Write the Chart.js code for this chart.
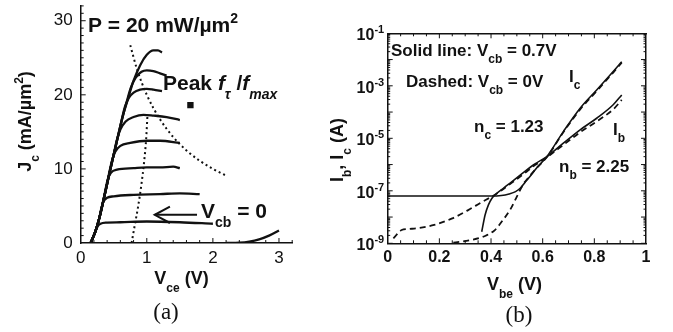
<!DOCTYPE html>
<html>
<head>
<meta charset="utf-8">
<script src="https://cdn.jsdelivr.net/npm/chart.js@4.4.0/dist/chart.umd.min.js"></script>
<style>
html, body { margin: 0; padding: 0; background: #fff; }
#wrap { position: relative; width: 673px; height: 332px; }
canvas { position: absolute; top: 0; }
#ca { left: 0; }
#cb { left: 316px; }
</style>
</head>
<body>
<div id="wrap">
  <canvas id="ca" width="336" height="332"></canvas>
  <canvas id="cb" width="357" height="332"></canvas>
</div>
<script>
// ---- panel (a): Jc vs Vce, [Vce (V), Jc (mA/um2)] ----
const vceTicks = [0, 1, 2, 3];
const jcTicks = [0, 10, 20, 30];

const jcCurve1 = [[0.15,0],[0.22,1.5],[0.28,3.3],[0.34,5.6],[0.4,8.0],[0.46,10.4],[0.52,12.7],[0.58,15.0],[0.64,17.2],[0.7,19.0],[0.8,21.9],[0.9,24.0],[1.0,25.4],[1.1,26.0],[1.17,26.0],[1.23,25.7]];
const jcCurve2 = [[0.15,0],[0.22,1.5],[0.28,3.3],[0.34,5.6],[0.4,8.0],[0.46,10.4],[0.52,12.7],[0.58,15.0],[0.64,17.2],[0.7,19.2],[0.76,21.0],[0.83,22.3],[0.92,23.1],[1.0,23.3],[1.1,23.2],[1.2,22.9],[1.3,22.6]];
const jcCurve3 = [[0.15,0],[0.22,1.5],[0.28,3.3],[0.34,5.6],[0.4,8.0],[0.46,10.4],[0.52,12.7],[0.58,15.0],[0.62,16.6],[0.67,18.4],[0.73,19.6],[0.8,20.3],[0.9,20.7],[1.0,20.8],[1.1,20.7],[1.23,20.5]];
const jcCurve4 = [[0.15,0],[0.22,1.5],[0.28,3.3],[0.34,5.6],[0.4,8.0],[0.46,10.4],[0.5,12.0],[0.55,14.0],[0.6,15.3],[0.68,16.4],[0.8,17.0],[0.95,17.3],[1.1,17.2],[1.3,17.0],[1.5,16.6]];
const jcCurve5 = [[0.15,0],[0.22,1.5],[0.28,3.3],[0.34,5.6],[0.4,8.0],[0.43,9.4],[0.47,11.0],[0.52,12.3],[0.6,13.1],[0.75,13.5],[1.0,13.8],[1.2,13.8],[1.5,13.5]];
const jcCurve6 = [[0.15,0],[0.22,1.5],[0.28,3.3],[0.34,5.6],[0.37,7.0],[0.41,8.6],[0.46,9.5],[0.55,9.9],[0.8,10.1],[1.0,10.2],[1.2,10.2],[1.4,10.3],[1.5,10.1]];
const jcCurve7 = [[0.15,0],[0.22,1.5],[0.28,3.3],[0.31,4.6],[0.34,5.5],[0.4,6.1],[0.5,6.3],[0.8,6.5],[1.2,6.6],[1.5,6.7],[1.8,6.6]];
const jcCurve8 = [[0.15,0],[0.22,1.5],[0.26,2.3],[0.3,2.6],[0.4,2.75],[0.6,2.8],[1.0,2.9],[1.5,2.8],[2.0,2.6]];
const jcTail = [[2.2,0],[2.4,0.05],[2.55,0.2],[2.7,0.5],[2.85,1.0],[3.0,1.7]];

const powerLimit = [[0.75,26.7],[0.85,23.5],[1.0,20.0],[1.2,16.7],[1.4,14.3],[1.6,12.5],[1.8,11.1],[2.0,10.0],[2.2,9.1]];
const peakFtLocus = [[0.77,0],[0.82,2.5],[0.87,5.0],[0.92,8.0],[0.96,11.0],[0.99,14.0],[1.01,17.2]];
const peakMarker = [[1.66,18.6]];
const arrowShaft = [[1.76,3.8],[1.12,3.8]];
const arrowHead = [[1.35,4.9],[1.12,3.8],[1.35,2.7]];

// ---- panel (b): Ib, Ic vs Vbe, [Vbe (V), I (A)] ----
const vbeTicks = [0, 0.2, 0.4, 0.6, 0.8, 1];
const currentTicks = [1e-9, 1e-7, 1e-5, 1e-3, 1e-1];

const icSolid = [[0,6.3e-8],[0.1,6.3e-8],[0.2,6.3e-8],[0.3,6.3e-8],[0.4,6.3e-8],[0.44,6.6e-8],[0.47,7.6e-8],[0.495,9.3e-8],[0.515,1.3e-7],[0.53,2.0e-7],[0.545,3.0e-7],[0.575,7.1e-7],[0.616,2.0e-6],[0.68,1.8e-5],[0.745,1.4e-4],[0.809,6.9e-4],[0.873,3.5e-3],[0.906,8.3e-3]];
const ibSolid = [[0.364,2.75e-9],[0.377,1.2e-8],[0.39,2.9e-8],[0.403,5.1e-8],[0.415,6.9e-8],[0.45,1.3e-7],[0.48,2.2e-7],[0.53,5.4e-7],[0.57,1.05e-6],[0.616,2.0e-6],[0.68,6.5e-6],[0.745,2.1e-5],[0.809,5.8e-5],[0.873,1.9e-4],[0.906,4.5e-4]];
const icDashed = [[0.254,1.05e-9],[0.325,1.35e-9],[0.377,1.9e-9],[0.415,3.2e-9],[0.441,6.6e-9],[0.474,1.9e-8],[0.5,6.0e-8],[0.525,1.8e-7],[0.545,3.2e-7],[0.575,7.1e-7],[0.616,1.9e-6],[0.68,1.7e-5],[0.745,1.26e-4],[0.809,6.3e-4],[0.873,3.2e-3],[0.906,7.6e-3]];
const ibDashed = [[0.022,1.55e-9],[0.054,3.2e-9],[0.08,3.5e-9],[0.12,3.8e-9],[0.18,5.0e-9],[0.25,8.9e-9],[0.31,1.8e-8],[0.36,3.5e-8],[0.415,7.1e-8],[0.48,2.0e-7],[0.53,4.7e-7],[0.57,9.5e-7],[0.616,1.9e-6],[0.68,5.6e-6],[0.745,1.7e-5],[0.809,4.4e-5],[0.873,1.26e-4],[0.906,2.9e-4]];

const ink = '#111';
const fam = "'Liberation Sans', Arial, sans-serif";

// text with sub/superscripts: parts = [[text, flags]], flags: b=sub, p=sup, i=italic
function rich(ctx, x, y, parts, size, align) {
  const fontFor = st => {
    const small = st.includes('b') || st.includes('p');
    const sz = small ? Math.round(size * 0.68) : size;
    return (st.includes('i') ? 'italic ' : '') + 'bold ' + sz + 'px ' + fam;
  };
  let w = 0;
  parts.forEach(([t, st]) => { ctx.font = fontFor(st); w += ctx.measureText(t).width; });
  let cx = align === 'center' ? x - w / 2 : (align === 'right' ? x - w : x);
  ctx.textAlign = 'left';
  ctx.textBaseline = 'alphabetic';
  ctx.fillStyle = ink;
  parts.forEach(([t, st]) => {
    ctx.font = fontFor(st);
    const dy = st.includes('b') ? size * 0.42 : (st.includes('p') ? -size * 0.42 : 0);
    ctx.fillText(t, cx, y + dy);
    cx += ctx.measureText(t).width;
  });
}

function tick(ctx, x1, y1, x2, y2) {
  ctx.beginPath(); ctx.moveTo(x1, y1); ctx.lineTo(x2, y2); ctx.stroke();
}

const pts = a => a.map(p => ({x: p[0], y: p[1]}));
function curve(data, extra) {
  return Object.assign({
    data: pts(data), borderColor: ink, backgroundColor: ink, borderWidth: 2.3,
    pointRadius: 0, fill: false, cubicInterpolationMode: 'monotone'
  }, extra || {});
}
// fixed axis boxes so the plot area lands where the original one is
const fixW = w => s => { s.width = w; s.paddingTop = 0; s.paddingBottom = 0; };
const fixH = h => s => { s.height = h; s.paddingLeft = 0; s.paddingRight = 0; };

// ---- chart (a) ----
const annoA = {
  id: 'annoA',
  afterDraw(chart) {
    const ctx = chart.ctx, xs = chart.scales.x, ys = chart.scales.y, a = chart.chartArea;
    ctx.save();
    ctx.strokeStyle = ink; ctx.lineWidth = 1;
    for (let v = 1; v <= 32; v++) {
      const py = ys.getPixelForValue(v);
      tick(ctx, a.left, py, a.left + (v % 10 === 0 ? 5 : 3), py);
    }
    for (let i = 1; i <= 16; i++) {
      const px = xs.getPixelForValue(i * 0.2);
      tick(ctx, px, a.bottom, px, a.bottom - (i % 5 === 0 ? 5 : 3));
    }
    rich(ctx, 88, 32, [['P = 20 mW/\u00b5m', ''], ['2', 'p']], 21);
    rich(ctx, 163, 90, [['Peak ', ''], ['f', 'i'], ['\u03c4', 'ib'], [' /', ''], ['f', 'i'], ['max', 'ib']], 21);
    rich(ctx, 201, 218, [['V', ''], ['cb', 'b'], [' = 0', '']], 21);
    rich(ctx, 181.5, 284, [['V', ''], ['ce', 'b'], [' (V)', '']], 18, 'center');
    ctx.save();
    ctx.translate(31, 121.5);
    ctx.rotate(-Math.PI / 2);
    rich(ctx, 0, 0, [['J', ''], ['c', 'b'], [' (mA/\u00b5m', ''], ['2', 'p'], [')', '']], 18, 'center');
    ctx.restore();
    ctx.font = "23px 'Liberation Serif', serif";
    ctx.textAlign = 'center'; ctx.textBaseline = 'middle';
    ctx.fillText('(a)', 166, 313);
    ctx.restore();
  }
};

new Chart(document.getElementById('ca'), {
  type: 'line',
  data: {
    datasets: [
      curve(jcCurve1), curve(jcCurve2), curve(jcCurve3), curve(jcCurve4),
      curve(jcCurve5), curve(jcCurve6), curve(jcCurve7), curve(jcCurve8), curve(jcTail),
      curve(powerLimit, {borderWidth: 2, borderDash: [2, 3]}),
      curve(peakFtLocus, {borderWidth: 2, borderDash: [2, 3]}),
      curve(arrowShaft, {borderWidth: 2, cubicInterpolationMode: 'default', tension: 0}),
      curve(arrowHead, {borderWidth: 2, cubicInterpolationMode: 'default', tension: 0}),
      {data: pts(peakMarker), showLine: false, pointStyle: 'rect', pointRadius: 4.5,
       backgroundColor: ink, borderColor: ink, borderWidth: 0}
    ]
  },
  options: {
    responsive: false,
    animation: false,
    layout: {padding: {left: 0, top: 5.9, right: 43.8, bottom: 44}},
    plugins: {legend: {display: false}, tooltip: {enabled: false}},
    scales: {
      x: {
        type: 'linear', min: 0, max: 3.2,
        grid: {display: false, drawTicks: false},
        border: {color: ink, width: 1.5},
        ticks: {color: ink, padding: 5, font: {family: fam, size: 17}, callback: v => String(v)},
        afterBuildTicks: s => { s.ticks = vceTicks.map(v => ({value: v})); },
        afterFit: fixH(45)
      },
      y: {
        type: 'linear', min: 0, max: 32,
        grid: {display: false, drawTicks: false},
        border: {color: ink, width: 1.5},
        ticks: {color: ink, padding: 8, font: {family: fam, size: 17}, callback: v => String(v)},
        afterBuildTicks: s => { s.ticks = jcTicks.map(v => ({value: v})); },
        afterFit: fixW(80.7)
      }
    }
  },
  plugins: [annoA]
});

// ---- chart (b) ----  (canvas starts at page x = 316)
const annoB = {
  id: 'annoB',
  afterDraw(chart) {
    const ctx = chart.ctx, xs = chart.scales.x, ys = chart.scales.y, a = chart.chartArea;
    ctx.save();
    ctx.strokeStyle = ink; ctx.lineWidth = 1;
    for (let e = -9; e <= -2; e++) {
      for (let m = 1; m < 10; m++) {
        const py = ys.getPixelForValue(m * Math.pow(10, e));
        const len = m === 1 ? 5 : 2.5;
        tick(ctx, a.left, py, a.left + len, py);
        tick(ctx, a.right, py, a.right - len, py);
      }
    }
    for (let i = 1; i < 20; i++) {
      const px = xs.getPixelForValue(i * 0.05);
      const len = i % 4 === 0 ? 5 : 3;
      tick(ctx, px, a.bottom, px, a.bottom - len);
      tick(ctx, px, a.top, px, a.top + len);
    }
    currentTicks.forEach(v => {
      const py = ys.getPixelForValue(v);
      const ex = String(Math.round(Math.log10(v)));
      ctx.font = 'bold 11px ' + fam;
      const ew = ctx.measureText(ex).width;
      const rx = a.left - 3.5;
      ctx.fillStyle = ink; ctx.textAlign = 'left'; ctx.textBaseline = 'alphabetic';
      ctx.fillText(ex, rx - ew, py);
      ctx.font = 'bold 16px ' + fam;
      ctx.textAlign = 'right';
      ctx.fillText('10', rx - ew, py + 7);
    });
    const ox = 316;
    rich(ctx, 391 - ox, 56, [['Solid line: V', ''], ['cb', 'b'], [' = 0.7V', '']], 17);
    rich(ctx, 406 - ox, 87, [['Dashed: V', ''], ['cb', 'b'], [' = 0V', '']], 17);
    rich(ctx, 569 - ox, 82, [['I', ''], ['c', 'b']], 17);
    rich(ctx, 474 - ox, 132, [['n', ''], ['c', 'b'], [' = 1.23', '']], 17);
    rich(ctx, 613 - ox, 135, [['I', ''], ['b', 'b']], 17);
    rich(ctx, 559 - ox, 172, [['n', ''], ['b', 'b'], [' = 2.25', '']], 17);
    rich(ctx, 514.5 - ox, 290, [['V', ''], ['be', 'b'], [' (V)', '']], 18, 'center');
    ctx.save();
    ctx.translate(343 - ox, 150);
    ctx.rotate(-Math.PI / 2);
    rich(ctx, 0, 0, [['I', ''], ['b', 'b'], [', I', ''], ['c', 'b'], [' (A)', '']], 18, 'center');
    ctx.restore();
    ctx.font = "23px 'Liberation Serif', serif";
    ctx.fillStyle = ink; ctx.textAlign = 'center'; ctx.textBaseline = 'middle';
    ctx.fillText('(b)', 519 - ox, 316);
    ctx.restore();
  }
};

const boxBorder = {color: ink, width: 1.5};
new Chart(document.getElementById('cb'), {
  type: 'line',
  data: {
    datasets: [
      curve(icSolid, {borderWidth: 1.6}),
      curve(ibSolid, {borderWidth: 1.6}),
      curve(icDashed, {borderWidth: 1.8, borderDash: [6, 4]}),
      curve(ibDashed, {borderWidth: 1.8, borderDash: [6, 4]})
    ]
  },
  options: {
    responsive: false,
    animation: false,
    layout: {padding: {left: 71.7, top: 33.3, right: 27, bottom: 43.7}},
    plugins: {legend: {display: false}, tooltip: {enabled: false}},
    scales: {
      x: {
        type: 'linear', min: 0, max: 1,
        grid: {display: false, drawTicks: false},
        border: boxBorder,
        ticks: {color: ink, padding: 5, font: {family: fam, size: 16, weight: 'bold'}, callback: v => String(v)},
        afterBuildTicks: s => { s.ticks = vbeTicks.map(v => ({value: v})); },
        afterFit: fixH(45)
      },
      x2: {
        type: 'linear', position: 'top', min: 0, max: 1,
        grid: {display: false, drawTicks: false}, border: boxBorder,
        ticks: {display: false}, afterFit: fixH(0)
      },
      y: {
        type: 'logarithmic', min: 1e-9, max: 1e-1,
        grid: {display: false, drawTicks: false}, border: boxBorder,
        ticks: {display: false}, afterFit: fixW(0)
      },
      y2: {
        type: 'logarithmic', position: 'right', min: 1e-9, max: 1e-1,
        grid: {display: false, drawTicks: false}, border: boxBorder,
        ticks: {display: false}, afterFit: fixW(0)
      }
    }
  },
  plugins: [annoB]
});
</script>
</body>
</html>
